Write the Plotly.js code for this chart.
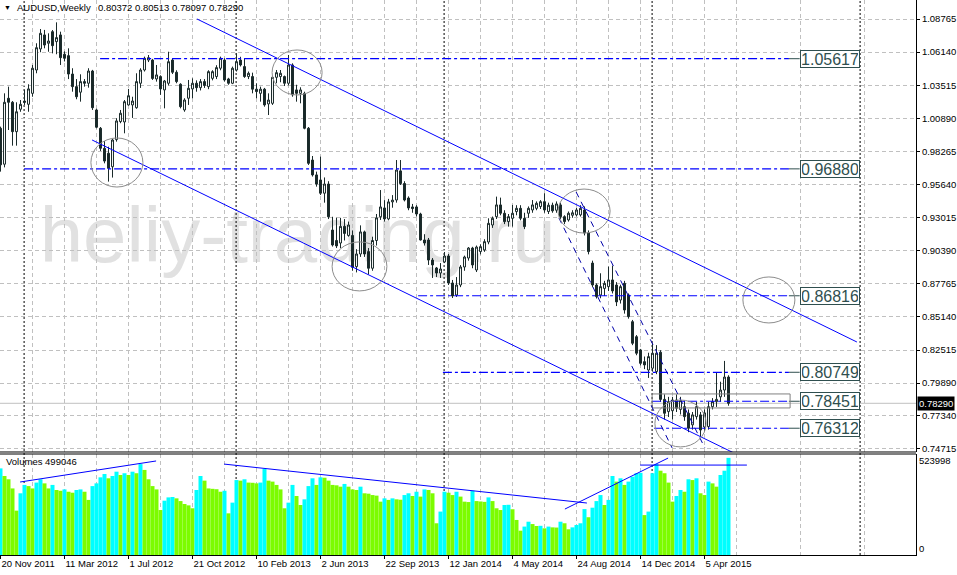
<!DOCTYPE html>
<html><head><meta charset="utf-8">
<script src="https://cdn.plot.ly/plotly-3.0.1.min.js"></script>
<style>html,body{margin:0;padding:0;background:#fff;}#chart{width:957px;height:575px;}</style>
</head><body><div id="chart"></div>
<script>
// ---- weekly AUDUSD candles, index 0 = week of 20 Nov 2011 ----
const openP = [
1.0010,0.9725,1.0248,1.0216,0.9983,1.0161,1.0226,1.0200,1.0287,1.0472,
1.0639,1.0750,1.0684,1.0776,1.0697,1.0750,1.0597,1.0586,1.0440,1.0340,
1.0296,1.0380,1.0367,1.0464,1.0155,1.0010,0.9851,0.9812,0.9705,0.9920,
1.0063,1.0060,1.0195,1.0195,1.0173,1.0367,1.0472,1.0551,1.0551,1.0401,
1.0420,1.0314,1.0367,1.0551,1.0454,1.0359,1.0155,1.0248,1.0322,1.0367,
1.0332,1.0380,1.0340,1.0406,1.0420,1.0486,1.0551,1.0401,1.0367,1.0472,
1.0551,1.0499,1.0420,1.0420,1.0320,1.0287,1.0320,1.0203,1.0208,1.0414,
1.0420,1.0420,1.0367,1.0512,1.0314,1.0287,1.0287,1.0010,0.9758,0.9640,
0.9600,0.9495,0.9568,0.9203,0.9120,0.9100,0.9232,0.9160,0.9160,0.8913,
0.9013,0.9188,0.9032,0.8900,0.9120,0.9308,0.9378,0.9291,0.9426,0.9441,
0.9672,0.9572,0.9457,0.9386,0.9386,0.9330,0.9124,0.9124,0.8965,0.8902,
0.8862,0.8950,0.8997,0.8783,0.8688,0.8767,0.8910,0.8981,0.9060,0.8886,
0.9032,0.9045,0.9108,0.9243,0.9309,0.9402,0.9336,0.9270,0.9296,0.9349,
0.9375,0.9296,0.9336,0.9362,0.9375,0.9389,0.9428,0.9350,0.9400,0.9360,
0.9402,0.9309,0.9283,0.9320,0.9323,0.9323,0.9362,0.9180,0.8941,0.8767,
0.8688,0.8740,0.8754,0.8807,0.8767,0.8648,0.8780,0.8688,0.8476,0.8357,
0.8252,0.8159,0.8093,0.8107,0.8080,0.8234,0.7860,0.7763,0.7770,0.7855,
0.7780,0.7802,0.7750,0.7658,0.7723,0.7737,0.7641,0.7644,0.7802,0.7842,
0.7880,0.7934,0.80372];
const highP = [
1.0023,1.0287,1.0340,1.0226,1.0216,1.0234,1.0314,1.0359,1.0512,1.0684,
1.0797,1.0790,1.0763,1.0789,1.0850,1.0776,1.0620,1.0644,1.0486,1.0400,
1.0438,1.0400,1.0486,1.0473,1.0165,1.0020,0.9909,0.9864,0.9925,1.0090,
1.0155,1.0234,1.0322,1.0260,1.0446,1.0486,1.0578,1.0591,1.0560,1.0512,
1.0430,1.0393,1.0617,1.0565,1.0470,1.0367,1.0248,1.0393,1.0406,1.0390,
1.0400,1.0400,1.0470,1.0470,1.0510,1.0578,1.0565,1.0410,1.0499,1.0604,
1.0577,1.0565,1.0460,1.0451,1.0367,1.0340,1.0330,1.0287,1.0420,1.0472,
1.0472,1.0428,1.0591,1.0525,1.0355,1.0335,1.0300,1.0020,0.9790,0.9666,
0.9785,0.9620,0.9590,0.9308,0.9300,0.9300,0.9290,0.9270,0.9200,0.9051,
0.9240,0.9198,0.9060,0.9150,0.9330,0.9520,0.9440,0.9450,0.9480,0.9758,
0.9758,0.9590,0.9470,0.9410,0.9400,0.9340,0.9170,0.9140,0.8981,0.8910,
0.8941,0.9029,0.9013,0.8807,0.8830,0.8925,0.9000,0.9068,0.9070,0.9080,
0.9090,0.9130,0.9296,0.9310,0.9468,0.9460,0.9360,0.9330,0.9402,0.9400,
0.9400,0.9340,0.9390,0.9441,0.9430,0.9440,0.9495,0.9420,0.9420,0.9430,
0.9420,0.9320,0.9350,0.9360,0.9380,0.9400,0.9390,0.9200,0.8960,0.8780,
0.8860,0.8800,0.8913,0.8920,0.8790,0.8770,0.8800,0.8700,0.8490,0.8370,
0.8260,0.8200,0.8230,0.8305,0.8290,0.8250,0.7900,0.7880,0.7880,0.7900,
0.7880,0.7850,0.7780,0.7760,0.7840,0.7760,0.7780,0.7840,0.7870,0.8070,
0.8000,0.8165,0.80513];
const lowP = [
0.9666,0.9700,0.9996,0.9872,0.9872,1.0141,1.0195,1.0141,1.0260,1.0446,
1.0613,1.0644,1.0617,1.0604,1.0597,1.0512,1.0540,1.0400,1.0300,1.0240,
1.0221,1.0340,1.0332,1.0155,1.0010,0.9830,0.9732,0.9587,0.9619,0.9904,
1.0050,0.9970,1.0190,1.0092,1.0165,1.0330,1.0460,1.0535,1.0393,1.0380,
1.0275,1.0168,1.0350,1.0440,1.0367,1.0168,1.0141,1.0195,1.0248,1.0300,
1.0310,1.0330,1.0320,1.0390,1.0400,1.0470,1.0380,1.0355,1.0360,1.0460,
1.0500,1.0410,1.0400,1.0287,1.0248,1.0221,1.0181,1.0115,1.0195,1.0367,
1.0375,1.0345,1.0350,1.0260,1.0221,1.0208,1.0002,0.9719,0.9627,0.9547,
0.9481,0.9420,0.9290,0.9072,0.9060,0.9060,0.9120,0.9150,0.8880,0.8867,
0.8990,0.8990,0.8850,0.8880,0.9080,0.9283,0.9270,0.9280,0.9380,0.9420,
0.9560,0.9430,0.9360,0.9340,0.9310,0.9120,0.9080,0.8926,0.8823,0.8830,
0.8823,0.8941,0.8767,0.8664,0.8672,0.8750,0.8880,0.8960,0.8900,0.8870,
0.9010,0.9030,0.9090,0.9220,0.9290,0.9320,0.9250,0.9230,0.9230,0.9320,
0.9280,0.9210,0.9300,0.9340,0.9360,0.9370,0.9340,0.9330,0.9340,0.9340,
0.9290,0.9250,0.9270,0.9300,0.9310,0.9310,0.9160,0.9010,0.8750,0.8660,
0.8662,0.8680,0.8720,0.8700,0.8600,0.8620,0.8540,0.8500,0.8290,0.8210,
0.8130,0.8100,0.8030,0.8080,0.8060,0.7840,0.7700,0.7720,0.7700,0.7760,
0.7740,0.7690,0.7600,0.7620,0.7700,0.7565,0.7600,0.7620,0.7780,0.7800,
0.7840,0.7880,0.78097];
const closeP = [
0.9720,1.0216,1.0216,0.9983,1.0141,1.0200,1.0216,1.0322,1.0486,1.0649,
1.0763,1.0670,1.0702,1.0665,1.0729,1.0570,1.0565,1.0440,1.0340,1.0260,
1.0380,1.0367,1.0464,1.0173,1.0018,0.9851,0.9750,0.9692,0.9917,1.0068,
1.0129,1.0221,1.0268,1.0226,1.0380,1.0472,1.0565,1.0570,1.0405,1.0433,
1.0322,1.0385,1.0538,1.0454,1.0380,1.0181,1.0234,1.0327,1.0367,1.0332,
1.0380,1.0350,1.0459,1.0459,1.0491,1.0565,1.0393,1.0367,1.0486,1.0538,
1.0512,1.0420,1.0446,1.0320,1.0301,1.0320,1.0195,1.0234,1.0414,1.0451,
1.0446,1.0367,1.0512,1.0275,1.0287,1.0314,1.0010,0.9732,0.9640,0.9568,
0.9495,0.9568,0.9308,0.9084,0.9077,0.9232,0.9176,0.9243,0.8907,0.9013,
0.9188,0.9013,0.8900,0.9120,0.9300,0.9386,0.9291,0.9426,0.9440,0.9679,
0.9572,0.9441,0.9378,0.9373,0.9330,0.9124,0.9100,0.8965,0.8926,0.8862,
0.8894,0.8997,0.8783,0.8680,0.8767,0.8910,0.8989,0.9060,0.8926,0.9068,
0.9071,0.9111,0.9256,0.9296,0.9402,0.9336,0.9270,0.9309,0.9336,0.9375,
0.9296,0.9230,0.9375,0.9402,0.9415,0.9428,0.9362,0.9400,0.9355,0.9410,
0.9309,0.9270,0.9336,0.9340,0.9362,0.9375,0.9180,0.9032,0.8767,0.8675,
0.8754,0.8780,0.8807,0.8720,0.8633,0.8754,0.8569,0.8516,0.8305,0.8226,
0.8146,0.8133,0.8199,0.8226,0.8226,0.7860,0.7750,0.7842,0.7855,0.7790,
0.7850,0.7723,0.7631,0.7737,0.7802,0.7617,0.7753,0.7802,0.7842,0.7860,
0.7934,0.8037,0.78290];
const volumes = [
445000,406000,389000,342000,228000,317000,360000,354000,342000,372000,
389000,368000,342000,360000,334000,330000,337000,325000,320000,334000,
337000,325000,283000,354000,368000,399000,416000,394000,406000,428000,
411000,420000,411000,428000,420000,467000,437000,389000,354000,337000,
231000,279000,296000,298000,291000,277000,262000,255000,240000,334000,
406000,382000,342000,340000,338000,325000,330000,214000,269000,385000,
382000,389000,372000,371000,368000,372000,442000,382000,377000,360000,
337000,240000,269000,360000,303000,257000,286000,354000,394000,360000,
399000,397000,382000,360000,358000,351000,365000,351000,337000,334000,
351000,317000,315000,308000,305000,274000,291000,283000,291000,286000,
284000,308000,317000,303000,325000,300000,337000,334000,317000,163000,
223000,325000,320000,308000,325000,300000,274000,272000,330000,277000,
275000,273000,296000,277000,240000,231000,257000,258000,235000,180000,
125000,146000,171000,159000,149000,150000,137000,146000,142000,141000,
171000,163000,132000,142000,154000,163000,236000,194000,243000,277000,
308000,257000,283000,406000,377000,394000,360000,377000,402000,420000,
422000,205000,223000,420000,467000,433000,420000,372000,274000,303000,
334000,325000,389000,385000,394000,317000,308000,377000,368000,351000,
411000,433000,499046];
const dateLabels = ['20 Nov 2011','11 Mar 2012','1 Jul 2012','21 Oct 2012','10 Feb 2013','2 Jun 2013',
  '22 Sep 2013','12 Jan 2014','4 May 2014','24 Aug 2014','14 Dec 2014','5 Apr 2015'];
const priceLabels = ['1.08765','1.06140','1.03515','1.00890','0.98265','0.95640','0.93015',
  '0.90390','0.87765','0.85140','0.82515','0.79890','0.77340','0.74715'];
const levels = [1.05617, 0.96880, 0.86816, 0.80749, 0.78451, 0.76312];
const levelStart = [24.9, 5.9, 104.4, 110.6, 162.9, 163.4];
const volLabel = 523998;
const header = ['AUDUSD,Weekly', '0.80372 0.80513 0.78097 0.78290'];
const lastPrice = 0.78290;

const FONT = 'Liberation Sans, Arial, sans-serif';
const n = closeP.length;
const idx = closeP.map((_, i) => i);
const volColors = volumes.map((v, i) => (i === 0 || v > volumes[i-1]) ? '#00FFFF' : '#7CFC00');
const tickIdx = dateLabels.map((_, k) => k * 16);

const candleCol = '#1a2a2a';
const traces = [
  {type:'candlestick', x: idx, open: openP, high: highP, low: lowP, close: closeP,
   xaxis:'x', yaxis:'y', whiskerwidth: 0, hoverinfo:'skip',
   increasing:{line:{color:candleCol, width:1}, fillcolor:'#ffffff'},
   decreasing:{line:{color:candleCol, width:1}, fillcolor:candleCol}, showlegend:false},
  {type:'bar', x: idx, y: volumes, xaxis:'x', yaxis:'y2', width: 1,
   marker:{color: volColors, line:{width:0}}, hoverinfo:'skip', showlegend:false}
];

const shapes = [];
const blue = '#0000FF';
shapes.push({type:'rect', xref:'paper', yref:'paper', x0:0.03, x1:0.62, y0:0.53, y1:0.65,
  line:{width:0}, fillcolor:'rgba(0,0,0,0)', layer:'below',
  label:{text:'heliy-trading.ru', textposition:'middle center',
    font:{family:FONT, size:78, color:'#e1e1e1'}}});
[5.9, 58.9, 110.9, 162.9, 214.9].forEach(xv => shapes.push({type:'line', xref:'x', yref:'paper',
  x0:xv, x1:xv, y0:0, y1:1, line:{color:'#000', width:1, dash:'2px,2px'}, layer:'below'}));
shapes.push({type:'line', xref:'paper', yref:'y', x0:0, x1:1, y0:lastPrice, y1:lastPrice,
  line:{color:'#c0c0c0', width:1}, layer:'below'});
levels.forEach((lv, k) => {
  shapes.push({type:'line', xref:'x', yref:'y', x0:levelStart[k], x1:197.1, y0:lv, y1:lv,
    line:{color:blue, width:1.2, dash:'dashdot'}});
  shapes.push({type:'line', xref:'x', yref:'y', x0:197.1, x1:199.8, y0:lv, y1:lv,
    line:{color:'#2f4f4f', width:1}});
});
shapes.push({type:'rect', xref:'x', yref:'y', x0:162.9, x1:197.4, y0:0.7792, y1:0.7903,
  line:{color:'#808080', width:1}, fillcolor:'rgba(0,0,0,0)'});
const chLines = [[49.1,1.0877,214.1,0.8315],[22.9,0.9917,184.9,0.7411]];
chLines.forEach(c => shapes.push({type:'line', xref:'x', yref:'y', x0:c[0], y0:c[1], x1:c[2], y1:c[3],
  line:{color:blue, width:1}}));
const dashLines = [[139.6,0.9299,167.9,0.7475],[143.9,0.9505,176.1,0.7475]];
dashLines.forEach(c => shapes.push({type:'line', xref:'x', yref:'y', x0:c[0], y0:c[1], x1:c[2], y1:c[3],
  line:{color:'#0000aa', width:1, dash:'6px,5px'}}));
const ellipses = [[22.6,35.6,0.9544,0.9933],[67.9,80.4,1.0274,1.0631],[82.9,96.6,0.8720,0.9109],
  [139.4,152.4,0.9179,0.9528],[185.6,198.6,0.8466,0.8831],[163.6,176.4,0.7483,0.7855]];
ellipses.forEach(e => shapes.push({type:'circle', xref:'x', yref:'y', x0:e[0], x1:e[1], y0:e[2], y1:e[3],
  line:{color:'#8c8c8c', width:1}}));
const vLines = [[4.9,375000,38.9,483000],[55.9,467000,146.6,267000],[141.1,236000,166.9,498000],[159.9,462000,186.6,462000]];
vLines.forEach(c => shapes.push({type:'line', xref:'x', yref:'y2', x0:c[0], y0:c[1], x1:c[2], y1:c[3],
  line:{color:blue, width:1}}));
const priceDom = [0.18559, 1], volDom = [0, 0.18198];
[priceDom[0], volDom[1]].forEach(yv => shapes.push({type:'line', xref:'paper', yref:'paper',
  x0:0, x1:1, y0:yv, y1:yv, line:{color:'#000', width:1}}));

const annotations = [];
levels.forEach(lv => annotations.push({xref:'x', yref:'y', x:207.4, y:lv, text:lv.toFixed(5),
  showarrow:false, font:{family:FONT, size:16, color:'#2f4f4f'}, bordercolor:'#2f4f4f', borderwidth:1,
  borderpad:1, bgcolor:'#ffffff', width:56, height:14, xanchor:'center', yanchor:'middle'}));
annotations.push({xref:'paper', yref:'y', x:1, xanchor:'left', xshift:1, y:lastPrice, text:lastPrice.toFixed(5),
  showarrow:false, bgcolor:'#000', font:{family:FONT, size:9.5, color:'#fff'}, borderpad:1});
annotations.push({xref:'paper', yref:'paper', x:2/916, y:(555-8)/555, xanchor:'left', yanchor:'middle',
  text:'▼', showarrow:false, font:{family:FONT, size:7, color:'#000'}});
annotations.push({xref:'paper', yref:'paper', x:15/916, y:(555-8)/555, xanchor:'left', yanchor:'middle',
  text:header[0], showarrow:false, font:{family:FONT, size:9.5, color:'#000'}});
annotations.push({xref:'paper', yref:'paper', x:96/916, y:(555-8)/555, xanchor:'left', yanchor:'middle',
  text:header[1], showarrow:false, font:{family:FONT, size:9.5, color:'#000'}});
annotations.push({xref:'paper', yref:'paper', x:4/916, y:(555-462)/555, xanchor:'left', yanchor:'middle',
  text:'Volumes ' + volumes[n-1], showarrow:false, font:{family:FONT, size:9.5, color:'#000'}});

const grid = '#c0c0c0';
const layout = {
  width:957, height:575, margin:{l:0, r:41, t:0, b:20}, paper_bgcolor:'#fff', plot_bgcolor:'#fff',
  showlegend:false, dragmode:false, shapes, annotations,
  xaxis:{anchor:'y2', range:[-0.125, 228.875], tickmode:'array', tickvals:tickIdx, ticktext:dateLabels,
    ticklabelposition:'outside right', ticks:'outside', ticklen:3, tickcolor:'#000',
    tickfont:{family:FONT, size:9.5, color:'#000'}, showgrid:true, gridcolor:grid, griddash:'4px,3px',
    minor:{tickmode:'linear', tick0:8, dtick:16, showgrid:true, gridcolor:grid, griddash:'4px,3px', ticks:''},
    showline:true, linecolor:'#000', zeroline:false, rangeslider:{visible:false}, fixedrange:true},
  yaxis:{domain:priceDom, range:[0.74427, 1.10272], side:'right', tickmode:'array',
    tickvals:priceLabels.map(Number), ticktext:priceLabels, ticks:'outside', ticklen:3, tickcolor:'#000',
    tickfont:{family:FONT, size:9.5, color:'#000'}, showgrid:true, gridcolor:grid, griddash:'4px,3px',
    showline:true, linecolor:'#000', zeroline:false, fixedrange:true},
  yaxis2:{domain:volDom, range:[0, volLabel*101/102], side:'right', tickmode:'array',
    tickvals:[0.06*volLabel, 0.92*volLabel], ticktext:['0', String(volLabel)], ticks:'',
    tickfont:{family:FONT, size:9.5, color:'#000'}, showgrid:false, showline:true, linecolor:'#000',
    zeroline:false, fixedrange:true}
};
Plotly.newPlot('chart', traces, layout, {displayModeBar:false, staticPlot:true});
</script></body></html>
